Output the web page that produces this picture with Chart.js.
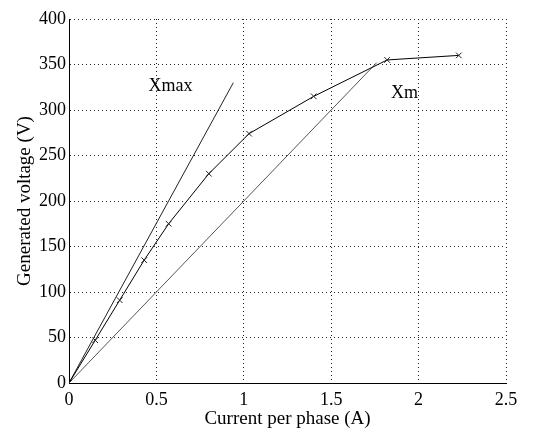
<!DOCTYPE html>
<html>
<head>
<meta charset="utf-8">
<script src="https://cdn.jsdelivr.net/npm/chart.js@4"></script>
<style>
  html, body { margin: 0; padding: 0; background: #fff; }
  #wrap { width: 542px; height: 430px; }
</style>
</head>
<body>
<div id="wrap"><canvas id="chart" width="542" height="430"></canvas></div>
<script>
// measured open-circuit curve
const currentA = [0, 0.15, 0.29, 0.43, 0.57, 0.80, 1.03, 1.40, 1.82, 2.23];
const voltageV = [0, 47, 91, 135, 175, 230, 274, 315, 355, 360];

// reactance lines
const xmaxLineX = [0, 0.94];
const xmaxLineY = [0, 330];
const xmLineX = [0, 1.76];
const xmLineY = [0, 352];

// text labels [text, x, y] in data units
const notes = [['Xmax', 0.58, 326], ['Xm', 1.92, 318]];

const xTicks = [0, 0.5, 1, 1.5, 2, 2.5];
const yTicks = [0, 50, 100, 150, 200, 250, 300, 350, 400];

const pts = (xs, ys) => xs.map((x, i) => ({ x: x, y: ys[i] }));
const serif = 'Liberation Serif, Times New Roman, serif';

const notesPlugin = {
    id: 'notes',
    afterDatasetsDraw(chart) {
        const ctx = chart.ctx;
        ctx.save();
        ctx.font = '18px ' + serif;
        ctx.fillStyle = '#000';
        ctx.textAlign = 'center';
        ctx.textBaseline = 'middle';
        notes.forEach(n => {
            ctx.fillText(n[0], chart.scales.x.getPixelForValue(n[1]), chart.scales.y.getPixelForValue(n[2]));
        });
        ctx.restore();
    }
};

new Chart(document.getElementById('chart').getContext('2d'), {
    type: 'scatter',
    data: {
        datasets: [{
            data: pts(currentA, voltageV),
            showLine: true,
            borderColor: '#000',
            borderWidth: 1,
            pointStyle: 'crossRot',
            pointRadius: 4,
            pointBorderColor: '#222',
            pointBorderWidth: 1
        }, {
            data: pts(xmaxLineX, xmaxLineY),
            showLine: true,
            borderColor: '#222',
            borderWidth: 1,
            pointRadius: 0
        }, {
            data: pts(xmLineX, xmLineY),
            showLine: true,
            borderColor: '#555',
            borderWidth: 1,
            pointRadius: 0
        }]
    },
    options: {
        responsive: false,
        animation: false,
        layout: { padding: { left: 0, top: 19, right: 36, bottom: 0 } },
        plugins: {
            legend: { display: false },
            tooltip: { enabled: false }
        },
        scales: {
            x: {
                type: 'linear',
                min: 0,
                max: 2.5,
                afterFit: s => { s.height = 47; },
                afterBuildTicks: s => { s.ticks = xTicks.map(v => ({ value: v })); },
                grid: {
                    color: '#222',
                    drawTicks: false
                },
                border: { color: '#000', width: 1, dash: [1, 3] },
                ticks: {
                    color: '#000',
                    padding: 6,
                    callback: v => String(v),
                    font: { family: serif, size: 18 }
                },
                title: {
                    display: true,
                    text: 'Current per phase (A)',
                    color: '#000',
                    padding: { top: 0, bottom: 0 },
                    font: { family: serif, size: 19 }
                }
            },
            y: {
                min: 0,
                max: 400,
                afterFit: s => { s.width = 69; },
                afterBuildTicks: s => { s.ticks = yTicks.map(v => ({ value: v })); },
                grid: {
                    color: '#222',
                    drawTicks: false
                },
                border: { color: '#000', width: 1, dash: [1, 3] },
                ticks: {
                    color: '#000',
                    padding: 3,
                    callback: v => String(v),
                    font: { family: serif, size: 18 }
                },
                title: {
                    display: true,
                    text: 'Generated voltage (V)',
                    color: '#000',
                    padding: { top: 14, bottom: 0 },
                    font: { family: serif, size: 19 }
                }
            }
        }
    },
    plugins: [notesPlugin]
});
</script>
</body>
</html>
